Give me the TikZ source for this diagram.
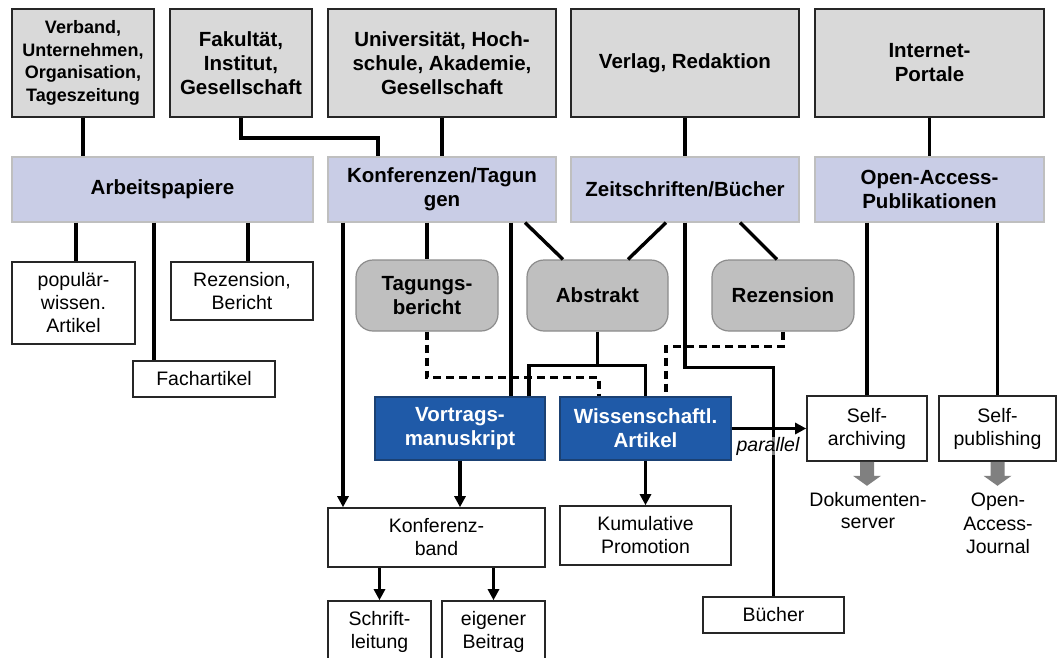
\documentclass[tikz,border=0pt]{standalone}
\usepackage{fontspec}
\setmainfont{Liberation Sans}
\usetikzlibrary{arrows.meta,calc}
\definecolor{topgray}{HTML}{D9D9D9}
\definecolor{lav}{RGB}{201,205,230}
\definecolor{lavline}{HTML}{BFBFBF}
\definecolor{rgray}{HTML}{BFBFBF}
\definecolor{rline}{HTML}{8C8C8C}
\definecolor{dblue}{HTML}{1F5AA8}
\definecolor{dbline}{HTML}{1B4173}
\definecolor{garrow}{HTML}{808080}
\tikzset{
  base/.style={inner sep=0pt, align=center},
  boldfont/.style={font=\fontsize{20.5}{24}\selectfont\bfseries},
  regfont/.style={font=\fontsize{19.5}{23}\selectfont},
  topbox/.style={base, draw=black!85, fill=topgray, line width=1.8pt, boldfont},
  catbox/.style={base, draw=lavline, fill=lav, line width=1.2pt, boldfont},
  roundbox/.style={base, draw=rline, fill=rgray, line width=1.2pt, rounded corners=17pt, boldfont},
  bluebox/.style={base, draw=dbline, fill=dblue, text=white, line width=1.2pt, boldfont},
  wbox/.style={base, draw=black!85, fill=white, line width=1.6pt, regfont},
  conn/.style={line width=3.4pt, black},
  arr/.style={conn, -{Triangle[length=11pt,width=11pt]}},
  dconn/.style={conn, dash pattern=on 8pt off 5pt},
}
\begin{document}
\begin{tikzpicture}[x=1pt,y=-1pt]
\useasboundingbox (0,0) rectangle (1058,657);
% top row
\node[topbox, minimum width=142pt, minimum height=108pt, font=\fontsize{18}{22.5}\selectfont\bfseries] (v1) at (83,63) {Verband,\\Unternehmen,\\Organisation,\\Tageszeitung};
\node[topbox, minimum width=142pt, minimum height=108pt] (v2) at (241,63) {Fakultät,\\Institut,\\Gesellschaft};
\node[topbox, minimum width=228pt, minimum height=108pt] (v3) at (442,63) {Universität, Hoch-\\schule, Akademie,\\Gesellschaft};
\node[topbox, minimum width=228pt, minimum height=108pt] (v4) at (685,63) {Verlag, Redaktion};
\node[topbox, minimum width=229pt, minimum height=108pt] (v5) at (929.5,63) {Internet-\\Portale};
% category row
\node[catbox, minimum width=301pt, minimum height=65pt] (ap) at (162.5,189.5) {Arbeitspapiere};
\node[catbox, minimum width=228pt, minimum height=65pt] (kt) at (442,189.5) {Konferenzen/Tagun\\gen};
\node[catbox, minimum width=228pt, minimum height=65pt] (zb) at (685,189.5) {Zeitschriften/Bücher};
\node[catbox, minimum width=229pt, minimum height=65pt] (oa) at (929.5,189.5) {Open-Access-\\Publikationen};
% Arbeitspapiere children
\node[wbox, minimum width=123pt, minimum height=82pt] (pw) at (73.5,303) {populär-\\wissen.\\Artikel};
\node[wbox, minimum width=142pt, minimum height=58pt] (rb) at (242,291) {Rezension,\\Bericht};
\node[wbox, minimum width=142pt, minimum height=36pt] (fa) at (204,379) {Fachartikel};
% rounded
\node[roundbox, minimum width=142pt, minimum height=71pt] (tb) at (427,295.5) {Tagungs-\\bericht};
\node[roundbox, minimum width=141pt, minimum height=71pt] (ab) at (597.5,295.5) {Abstrakt};
\node[roundbox, minimum width=142pt, minimum height=71pt] (rz) at (783,295.5) {Rezension};
% blue
\node[bluebox, minimum width=170pt, minimum height=63pt] (vm) at (460,428.5) {Vortrags-\\manuskript};
\node[bluebox, minimum width=171pt, minimum height=63pt] (wa) at (645.5,428.5) {Wissenschaftl.\\Artikel};
% lower white boxes
\node[wbox, minimum width=217pt, minimum height=59pt] (kb) at (436.5,537.5) {Konferenz-\\band};
\node[wbox, minimum width=171pt, minimum height=59pt] (kp) at (645.5,535.5) {Kumulative\\Promotion};
\node[wbox, minimum width=103pt, minimum height=61pt] (sl) at (379.5,631.5) {Schrift-\\leitung};
\node[wbox, minimum width=103pt, minimum height=61pt] (eb) at (493.5,631.5) {eigener\\Beitrag};
\node[wbox, minimum width=141pt, minimum height=36pt] (bu) at (773.5,615) {Bücher};
\node[wbox, minimum width=120pt, minimum height=65pt] (sa) at (867,428.5) {Self-\\archiving};
\node[wbox, minimum width=117pt, minimum height=65pt] (sp) at (997.5,428.5) {Self-\\publishing};
\node[base, regfont, font=\fontsize{19.5}{22}\selectfont] (ds) at (868,511) {Dokumenten-\\server};
\node[base, regfont, font=\fontsize{19.5}{23.5}\selectfont] (oj) at (998,523.5) {Open-\\Access-\\Journal};
% connectors top
\draw[conn] (v1.south) -- (v1.south |- ap.north);
\draw[conn] (v2.south) -- ++(0,20) -| ([xshift=-64pt]kt.north);
\draw[conn] (v3.south) -- (kt.north);
\draw[conn] (v4.south) -- (zb.north);
\draw[conn] (v5.south) -- (oa.north);
% Arbeitspapiere
\coordinate (pwT) at ([xshift=2.5pt]pw.north);
\coordinate (faT) at ([xshift=-50pt]fa.north);
\coordinate (rbT) at ([xshift=6pt]rb.north);
\draw[conn] (pwT |- ap.south) -- (pwT);
\draw[conn] (faT |- ap.south) -- (faT);
\draw[conn] (rbT |- ap.south) -- (rbT);
% Konferenzen
\coordinate (kbL) at ([xshift=-93.5pt]kb.north);
\draw[arr] (kbL |- kt.south) -- (kbL);
\draw[conn] (tb.north |- kt.south) -- (tb.north);
\coordinate (vmT) at ([xshift=51pt]vm.north);
\draw[conn] (vmT |- kt.south) -- (vmT);
\draw[conn] ([xshift=83pt]kt.south) -- ([xshift=-34.5pt]ab.north);
% Zeitschriften
\draw[conn] ([xshift=-19pt]zb.south) -- ([xshift=30.5pt]ab.north);
\draw[conn] ([xshift=55pt]zb.south) -- ([xshift=-6pt]rz.north);
\draw[conn] (zb.south) -- ++(0,145) -| (bu.north);
% dashed and abstract links
\draw[dconn] (tb.south) -- ++(0,46) -| ([xshift=-46.5pt]wa.north);
\draw[conn] (ab.south) -- ++(0,34) coordinate (abj);
\coordinate (vmR) at ([xshift=69pt]vm.north);
\draw[conn] (vmR) |- (wa.north |- abj) -- (wa.north);
\draw[dconn] (rz.south) -- ++(0,15) -| ([xshift=20.5pt]wa.north);
% arrows down
\draw[arr] (vm.south) -- (vm.south |- kb.north);
\draw[arr] (wa.south) -- (kp.north);
\draw[arr] (wa.east) -- (sa.west);
\draw[arr] (sl.north |- kb.south) -- (sl.north);
\draw[arr] (eb.north |- kb.south) -- (eb.north);
% open access
\draw[conn] (sa.north |- oa.south) -- (sa.north);
\draw[conn] (sp.north |- oa.south) -- (sp.north);
% block arrows
\fill[garrow] ($(sa.south)+(-7,0)$) -- ++(14,0) -- ++(0,14) -- ++(7,0) -- ++(-14,10) -- ++(-14,-10) -- ++(7,0) -- cycle;
\fill[garrow] ($(sp.south)+(-7,0)$) -- ++(14,0) -- ++(0,14) -- ++(7,0) -- ++(-14,10) -- ++(-14,-10) -- ++(7,0) -- cycle;
% parallel label
\node[inner sep=0pt, font=\fontsize{19.5}{23}\selectfont\itshape, fill=white, fill opacity=0.5, text opacity=1] (par) at (768,446) {parallel};
\end{tikzpicture}
\end{document}
